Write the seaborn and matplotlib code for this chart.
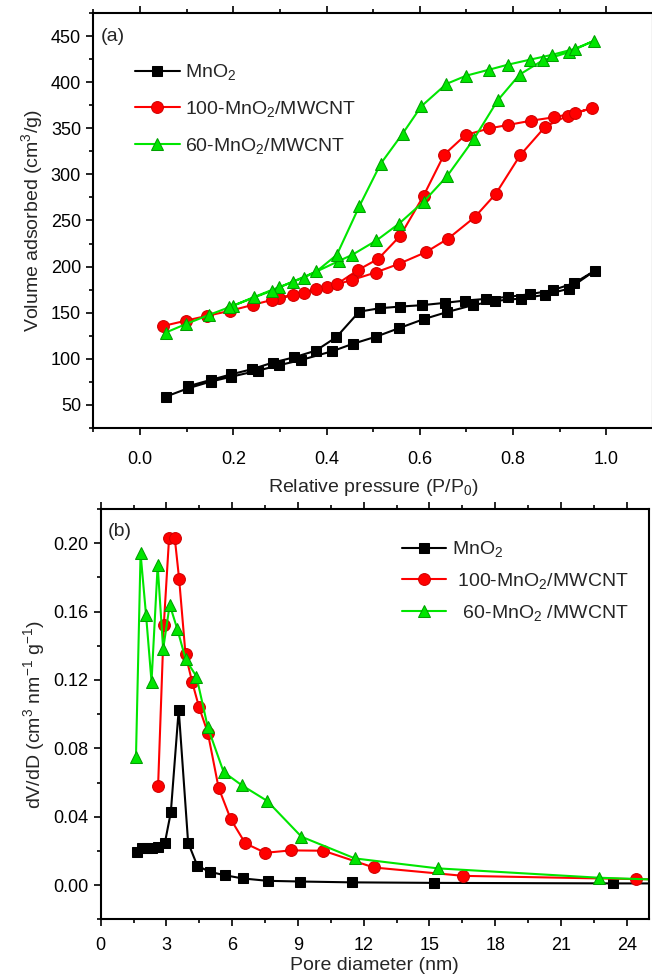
import numpy as np
import pandas as pd
import matplotlib
matplotlib.use("Agg")
import matplotlib.pyplot as plt
from matplotlib.ticker import MultipleLocator, FormatStrFormatter
import seaborn as sns

# ---- (a) N2 isotherms: adsorption branch then desorption branch ----
mno2_ads_p = [0.055, 0.103, 0.151, 0.196, 0.253, 0.298, 0.346, 0.412, 0.456, 0.507,
              0.555, 0.608, 0.658, 0.713, 0.762, 0.816, 0.868, 0.920, 0.975]
mno2_ads_v = [58.7, 67.8, 75.0, 80.4, 87.0, 92.8, 98.6, 108.0, 116.0, 124.0,
              133.0, 142.8, 150.5, 158.0, 162.7, 165.2, 169.2, 176.0, 195.3]
mno2_des_p = [0.931, 0.885, 0.837, 0.789, 0.743, 0.696, 0.653, 0.604, 0.557, 0.514,
              0.470, 0.421, 0.377, 0.331, 0.284, 0.240, 0.196, 0.151, 0.103]
mno2_des_v = [182.0, 174.3, 170.0, 167.0, 164.9, 163.0, 160.5, 158.0, 156.5, 154.7,
              151.0, 123.3, 108.7, 101.5, 95.6, 88.5, 83.0, 76.8, 70.0]

c100_ads_p = [0.050, 0.099, 0.143, 0.192, 0.242, 0.297, 0.351, 0.401, 0.455, 0.505,
              0.555, 0.613, 0.661, 0.718, 0.763, 0.815, 0.869, 0.917, 0.970]
c100_ads_v = [135.5, 141.3, 146.4, 151.8, 158.4, 165.6, 171.7, 177.6, 185.5, 193.5,
              202.9, 215.6, 230.4, 253.7, 279.0, 320.7, 351.8, 363.8, 372.2]
c100_des_p = [0.933, 0.887, 0.839, 0.789, 0.749, 0.698, 0.652, 0.608, 0.558, 0.511,
              0.468, 0.423, 0.377, 0.328, 0.282]
c100_des_v = [366.7, 362.0, 358.4, 353.7, 350.0, 342.8, 321.4, 276.8, 233.4, 208.4,
              196.4, 181.2, 175.4, 169.2, 163.8]

c60_ads_p = [0.055, 0.099, 0.148, 0.199, 0.244, 0.298, 0.351, 0.427, 0.455, 0.507,
             0.555, 0.608, 0.658, 0.716, 0.767, 0.814, 0.864, 0.919, 0.973]
c60_ads_v = [128.3, 137.7, 147.5, 157.3, 166.8, 177.6, 188.0, 206.2, 212.7, 228.3,
             246.4, 270.3, 297.8, 338.5, 380.4, 408.4, 424.0, 432.6, 445.0]
c60_des_p = [0.932, 0.883, 0.837, 0.789, 0.749, 0.700, 0.657, 0.603, 0.563, 0.516,
             0.470, 0.422, 0.378, 0.328, 0.282, 0.191]
c60_des_v = [436.3, 429.8, 424.7, 419.2, 413.8, 407.3, 398.3, 373.9, 344.2, 311.6,
             265.2, 212.7, 194.6, 183.7, 173.6, 155.9]

# ---- (b) pore size distributions ----
mno2_d = [1.64, 1.87, 2.10, 2.35, 2.60, 2.93, 3.20, 3.56, 3.99, 4.41,
          4.97, 5.65, 6.48, 7.62, 9.10, 11.48, 15.19, 23.39, 31.0]
mno2_dv = [0.0195, 0.0215, 0.0219, 0.0219, 0.0224, 0.0248, 0.0425, 0.1027, 0.0248, 0.0113,
           0.0078, 0.0058, 0.0039, 0.0025, 0.0021, 0.0016, 0.0013, 0.0010, 0.0009]
c100_d = [2.62, 2.88, 3.12, 3.38, 3.58, 3.87, 4.17, 4.49, 4.89, 5.38,
          5.94, 6.60, 7.51, 8.68, 10.16, 12.46, 16.55, 24.42, 31.0]
c100_dv = [0.058, 0.152, 0.203, 0.203, 0.179, 0.135, 0.119, 0.104, 0.089, 0.0569,
           0.0384, 0.0244, 0.0189, 0.0203, 0.0201, 0.0103, 0.0054, 0.0035, 0.0030]
c60_d = [1.61, 1.82, 2.07, 2.32, 2.60, 2.85, 3.15, 3.49, 3.88, 4.37,
         4.89, 5.61, 6.45, 7.59, 9.16, 11.6, 15.37, 22.75, 31.0]
c60_dv = [0.0747, 0.194, 0.158, 0.119, 0.187, 0.138, 0.164, 0.150, 0.132, 0.122,
          0.0922, 0.0661, 0.0583, 0.0493, 0.0283, 0.0156, 0.0098, 0.0043, 0.0008]

labels_a = ["MnO$_2$", "100-MnO$_2$/MWCNT", "60-MnO$_2$/MWCNT"]
labels_b = ["MnO$_2$", " 100-MnO$_2$/MWCNT", "  60-MnO$_2$ /MWCNT"]

sns.set_theme(style="ticks")
plt.rcParams['font.family'] = ['Liberation Sans', 'DejaVu Sans']
plt.rcParams['mathtext.fontset'] = 'custom'
plt.rcParams['mathtext.rm'] = 'Liberation Sans'
plt.rcParams['mathtext.it'] = 'Liberation Sans'
plt.rcParams['mathtext.default'] = 'regular'

styles = [
    dict(color='black', marker='s', markersize=7.5, markeredgecolor='black'),
    dict(color='#ff0000', marker='o', markersize=8.5, markeredgecolor='#d00000'),
    dict(color='#00e600', marker='^', markersize=9, markeredgecolor='#00a000'),
]

fig = plt.figure(figsize=(6.52, 9.76), dpi=100)
ax1 = fig.add_axes([0.1434, 0.5618, 0.858, 0.4246])
ax2 = fig.add_axes([0.1544, 0.0581, 0.8405, 0.4204])

iso = [(mno2_ads_p + mno2_des_p, mno2_ads_v + mno2_des_v),
       (c100_ads_p + c100_des_p, c100_ads_v + c100_des_v),
       (c60_ads_p + c60_des_p, c60_ads_v + c60_des_v)]
for (px, vy), lab, st in zip(iso, labels_a, styles):
    df = pd.DataFrame({'p': px, 'v': vy})
    sns.lineplot(data=df, x='p', y='v', ax=ax1, sort=False, estimator=None,
                 linewidth=1.5, label=lab, **st)

psd = [(mno2_d, mno2_dv), (c100_d, c100_dv), (c60_d, c60_dv)]
for (dx, dy), lab, st in zip(psd, labels_b, styles):
    df = pd.DataFrame({'d': dx, 'dv': dy})
    sns.lineplot(data=df, x='d', y='dv', ax=ax2, sort=False, estimator=None,
                 linewidth=1.5, label=lab, **st)

ax1.set_xlim(-0.1, 1.1)
ax1.set_ylim(25, 475)
ax1.xaxis.set_major_locator(MultipleLocator(0.2))
ax1.xaxis.set_minor_locator(MultipleLocator(0.1))
ax1.xaxis.set_major_formatter(FormatStrFormatter('%.1f'))
ax1.yaxis.set_major_locator(MultipleLocator(50))
ax1.yaxis.set_minor_locator(MultipleLocator(25))
ax1.set_xlabel("Relative pressure (P/P$_0$)", fontsize=14, labelpad=6)
ax1.set_ylabel("Volume adsorbed (cm$^3$/g)", fontsize=14, labelpad=4)
ax1.text(0.013, 0.965, "(a)", transform=ax1.transAxes, fontsize=14, va='top')

ax2.set_xlim(0, 25)
ax2.set_ylim(-0.02, 0.22)
ax2.xaxis.set_major_locator(MultipleLocator(3))
ax2.xaxis.set_minor_locator(MultipleLocator(1.5))
ax2.yaxis.set_major_locator(MultipleLocator(0.04))
ax2.yaxis.set_minor_locator(MultipleLocator(0.02))
ax2.yaxis.set_major_formatter(FormatStrFormatter('%.2f'))
ax2.set_xlabel("Pore diameter (nm)", fontsize=14, labelpad=2)
ax2.set_ylabel("dV/dD (cm$^3$ nm$^{-1}$ g$^{-1}$)", fontsize=14, labelpad=4)
ax2.text(0.013, 0.965, "(b)", transform=ax2.transAxes, fontsize=14, va='top')

for ax in (ax1, ax2):
    for s in ax.spines.values():
        s.set_linewidth(1.5)
        s.set_color('black')
    ax.tick_params(which='both', direction='out', top=True, right=False,
                   labelsize=13, colors='black', width=1.2)
    ax.tick_params(which='major', length=5, pad=4)
    ax.tick_params(which='minor', length=3)
ax1.tick_params(axis='x', which='major', pad=12)
ax2.tick_params(axis='x', which='major', pad=8)

leg1 = ax1.legend(loc='upper left', bbox_to_anchor=(0.06, 0.9), frameon=False,
                  fontsize=14, handlelength=2.3, handletextpad=0.3, labelspacing=0.85,
                  borderaxespad=0)
leg2 = ax2.legend(loc='upper left', bbox_to_anchor=(0.535, 0.945), frameon=False,
                  fontsize=14, handlelength=2.3, handletextpad=0.3, labelspacing=0.6,
                  borderaxespad=0)

fig.savefig("out.png", dpi=100)
